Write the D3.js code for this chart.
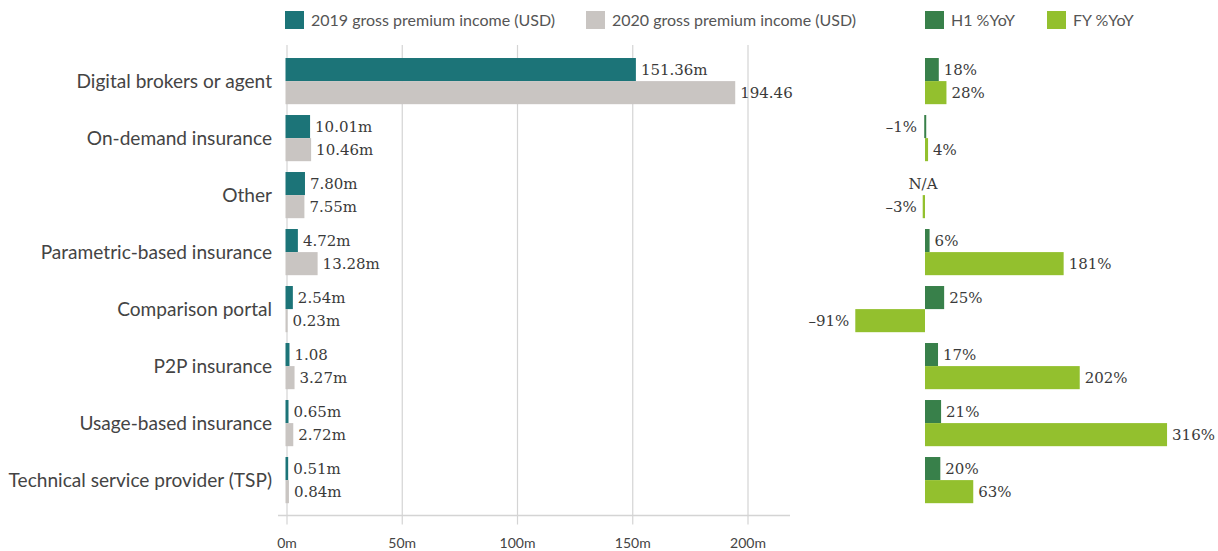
<!DOCTYPE html>
<html><head><meta charset="utf-8">
<script src="https://cdn.jsdelivr.net/npm/d3@7"></script>
<style>
html,body{margin:0;padding:0;background:#fff;}
svg{display:block;}
</style></head>
<body>
<svg id="chart" width="1218" height="551"></svg>
<script>
const categories = ["Digital brokers or agent","On-demand insurance","Other","Parametric-based insurance","Comparison portal","P2P insurance","Usage-based insurance","Technical service provider (TSP)"];
const gpi2019 = [151.36, 10.01, 7.80, 4.72, 2.54, 1.08, 0.65, 0.51];
const gpi2020 = [194.46, 10.46, 7.55, 13.28, 0.23, 3.27, 2.72, 0.84];
const labels2019 = ["151.36m","10.01m","7.80m","4.72m","2.54m","1.08","0.65m","0.51m"];
const labels2020 = ["194.46","10.46m","7.55m","13.28m","0.23m","3.27m","2.72m","0.84m"];
const h1YoY = [18, -1, null, 6, 25, 17, 21, 20];
const fyYoY = [28, 4, -3, 181, -91, 202, 316, 63];
const xTicks = [0, 50, 100, 150, 200];
const seriesNames = ["2019 gross premium income (USD)","2020 gross premium income (USD)","H1 %YoY","FY %YoY"];

const colors = {c2019:"#1c7478", c2020:"#c9c5c2", h1:"#38804a", fy:"#93c02e"};
const txt = "#444";
const sansFont = "Lato, 'Open Sans', sans-serif";
const serifFont = "'DejaVu Serif', serif";

const svg = d3.select("#chart");

const y = d3.scaleBand().domain(categories).range([52.6, 508.6]).paddingInner(0.19).paddingOuter(0.095);
const sub = d3.scaleBand().domain(["a","b"]).range([0, y.bandwidth()]);
const x = d3.scaleLinear().domain([0, 200]).range([287, 748]);
const xr = d3.scaleLinear().domain([0, 100]).range([925, 1001.6]);
const barStart = x(0) - 1.5;

// gridlines
const gTop = 45, axisY = 515.5, tickBottom = 524.5;
svg.append("g").selectAll("line").data(xTicks).join("line")
  .attr("x1", d => x(d)).attr("x2", d => x(d))
  .attr("y1", gTop).attr("y2", tickBottom)
  .attr("stroke", "#d4d4d4").attr("stroke-width", 1.2);
// axis line
svg.append("line").attr("x1", x(0) - 9).attr("x2", 790)
  .attr("y1", axisY).attr("y2", axisY).attr("stroke", "#d4d4d4").attr("stroke-width", 1.5);
// tick labels
svg.append("g").selectAll("text").data(xTicks).join("text")
  .attr("x", d => x(d)).attr("y", 548)
  .attr("text-anchor", "middle")
  .attr("font-family", sansFont).attr("font-size", 14).attr("fill", txt)
  .text(d => d + "m");

// category labels
svg.append("g").selectAll("text").data(categories).join("text")
  .attr("x", 272).attr("y", d => y(d) + y.bandwidth() / 2)
  .attr("dy", "0.35em").attr("text-anchor", "end")
  .attr("font-family", sansFont).attr("font-size", 19.1).attr("fill", txt)
  .text(d => d);

// left bars
const rows = categories.map((c, i) => ({c, i}));
svg.append("g").selectAll("rect").data(rows).join("rect")
  .attr("x", barStart).attr("y", d => y(d.c) + sub("a"))
  .attr("width", d => x(gpi2019[d.i]) - barStart).attr("height", sub.bandwidth())
  .attr("fill", colors.c2019);
svg.append("g").selectAll("rect").data(rows).join("rect")
  .attr("x", barStart).attr("y", d => y(d.c) + sub("b"))
  .attr("width", d => x(gpi2020[d.i]) - barStart).attr("height", sub.bandwidth())
  .attr("fill", colors.c2020);

const valFont = (sel) => sel.attr("font-family", serifFont).attr("font-size", 15).attr("fill", "#3a3a3a").attr("dy", "0.36em");
svg.append("g").selectAll("text").data(rows).join("text")
  .attr("x", d => x(gpi2019[d.i]) + 5).attr("y", d => y(d.c) + sub("a") + sub.bandwidth() / 2)
  .call(valFont).text(d => labels2019[d.i]);
svg.append("g").selectAll("text").data(rows).join("text")
  .attr("x", d => x(gpi2020[d.i]) + 5).attr("y", d => y(d.c) + sub("b") + sub.bandwidth() / 2)
  .call(valFont).text(d => labels2020[d.i]);

// right bars
function pctBars(vals, key, color) {
  const g = svg.append("g");
  const data = rows.filter(d => vals[d.i] !== null);
  g.selectAll("rect").data(data).join("rect")
    .attr("x", d => Math.min(xr(0), xr(vals[d.i])))
    .attr("y", d => y(d.c) + sub(key))
    .attr("width", d => Math.max(2, Math.abs(xr(vals[d.i]) - xr(0))))
    .attr("height", sub.bandwidth())
    .attr("fill", color);
  g.selectAll("text").data(rows).join("text")
    .attr("x", d => vals[d.i] === null ? xr(0) - 2 : (vals[d.i] < 0 ? Math.min(xr(vals[d.i]), xr(0) - 2) - 6 : xr(vals[d.i]) + 5))
    .attr("y", d => y(d.c) + sub(key) + sub.bandwidth() / 2)
    .attr("text-anchor", d => vals[d.i] === null ? "middle" : (vals[d.i] < 0 ? "end" : "start"))
    .call(valFont)
    .text(d => vals[d.i] === null ? "N/A" : (vals[d.i] < 0 ? "\u2013" + Math.abs(vals[d.i]) : vals[d.i]) + (vals[d.i] === null ? "" : "%"));
}
pctBars(h1YoY, "a", colors.h1);
pctBars(fyYoY, "b", colors.fy);

// legend
const legend = [
  {name: seriesNames[0], color: colors.c2019, x: 285},
  {name: seriesNames[1], color: colors.c2020, x: 586},
  {name: seriesNames[2], color: colors.h1, x: 925},
  {name: seriesNames[3], color: colors.fy, x: 1047}
];
const lg = svg.append("g").selectAll("g").data(legend).join("g");
lg.append("rect").attr("x", d => d.x).attr("y", 11).attr("width", 19).attr("height", 18).attr("fill", d => d.color);
lg.append("text").attr("x", d => d.x + 26).attr("y", 20).attr("dy", "0.35em")
  .attr("font-family", sansFont).attr("font-size", 16).attr("fill", "#555")
  .text(d => d.name);
</script>
</body></html>
